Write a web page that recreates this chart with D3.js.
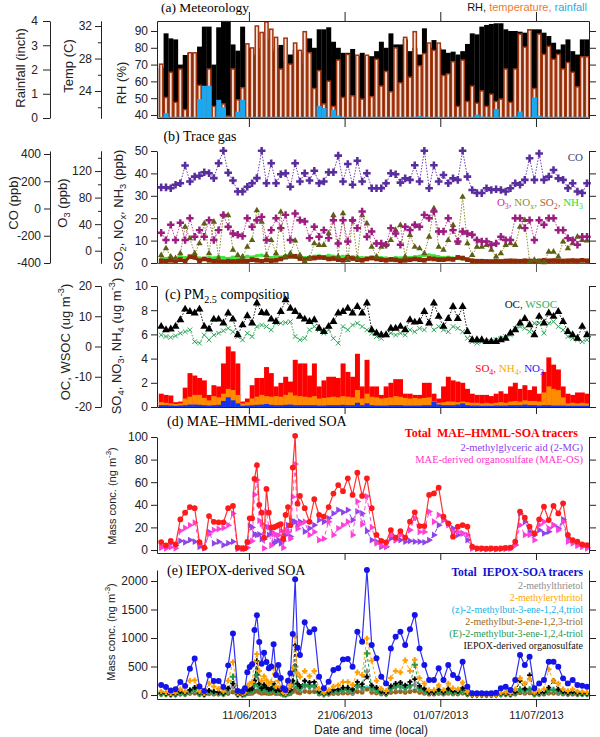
<!DOCTYPE html>
<html><head><meta charset="utf-8">
<script src="https://cdn.jsdelivr.net/npm/d3@7"></script>
<style>body{margin:0;background:#fff}</style>
</head><body>
<svg id="c" width="600" height="737"></svg>
<script>
// ---------------- DATA ----------------
const xDomain = ["2013-06-01 09:30", "2013-07-16 13:00"];
const xTickDates = ["2013-06-11 00:00","2013-06-21 00:00","2013-07-01 00:00","2013-07-11 00:00"];
const halfDaily = [{start:"2013-06-01 20:00", stepHours:12, count:90}];
const soaSchedule = [{start:"2013-06-01 20:00",stepHours:12,count:18},{start:"2013-06-10 14:00",stepHours:6,count:24},{start:"2013-06-16 20:00",stepHours:12,count:60}];

// (a) meteorology
const rhTicks = [40,50,60,70,80,90];
const tempTicks = [24,28,32], tempMinor = [22,26,30];
const rainTicks = [0,1,2,3,4];
const rh = [68,88.6,85.6,85,70,75.7,77,77,80.7,92.6, 92.6,70,92.2,96,96,82,78.3,92.6,80,76, 75,80,85,78,80,81.7,72,76,78.7,77, 70,85.6,80,91,91,92.2,83.6,80,77,77, 79.3,75,77,75,75,78,83.6,80,88.6,82, 82,85,78,80,76,91.6,80,84.6,80,79, 77,77.7,76,78,82.3,88.6,88,92.6,93.6,94.2, 94.6,94.6,91,90,90,89.6,89,91,91,91, 89,87,83,79,82,85,78,76,85,85];
const temp = [27.4,23.3,26.4,22.7,26.8,21.8,28.8,28.8,24.8,24.6, 26.8,22.2,21.5,22.5,21.0,26.8,23.0,24.5,29.9,29.4, 32.1,31.3,32.6,31.7,30.7,26.8,30.6,27.4,30.0,29.1, 31.4,28.8,24.4,26.6,22.5,25.3,22.2,27.9,23.3,28.6, 23.5,28.5,23.1,28.5,23.4,28.0,24.7,26.5,24.0,29.4, 25.1,30.7,25.8,31.4,27.2,28.7,30.0,29.1,30.0,26.0, 26.2,27.7,22.2,27.9,22.8,24.7,22.6,24.1,22.2,23.7, 22.8,23.1,26.8,22.7,26.8,31.1,29.5,31.6,24.4,31.1, 28.6,29.6,28.0,28.6,26.8,27.6,26.4,24.6,28.3,28.3];
const rain = [0.05,0.2,0.05,0.05,0.05,0.05,0.05,0.05,0.78,1.33, 1.33,0.05,0.75,0.44,0.05,0.05,0.26,0.75,0.05,0.05, 0.05,0.05,0.05,0.05,0.05,0.05,0.05,0.05,0.05,0.05, 0.05,0.05,0.05,0.5,0.41,0.05,0.34,0.1,0.05,0.05, 0.05,0.05,0.05,0.05,0.05,0.05,0.05,0.05,0.05,0.05, 0.05,0.05,0.05,0.05,0.08,0.05,0.05,0.05,0.05,0.05, 0.05,0.05,0.05,0.05,0.05,0.05,0.14,0.07,0.05,0.05, 0.37,0.05,0.05,0.05,0.07,0.27,0.05,0.05,0.85,0.1, 0.05,0.05,0.05,0.05,0.05,0.05,0.05,0.05,0.05,0.05];

// (b) trace gas
const so2Ticks = [0,10,20,30,40,50];
const o3Ticks = [0,40,80,120], o3Minor = [20,60,100,140];
const coTicks = [-400,-200,0,200,400];
const co = [155,155,149,174,185,315,198,234,241,266, 259,223,332,424,262,205,124,124,160,185, 223,424,185,332,185,251,259,160,332,198, 259,205,277,185,198,266,266,388,198,327, 174,351,198,259,149,149,149,185,259,251, 190,221,210,318,198,424,149,318,198,246, 185,221,210,424,234,136,113,113,149,136, 141,136,124,149,185,174,210,368,210,404, 210,234,282,221,210,149,185,124,113,185];
const o3 = [27,16,39,16,42,16,49,21,31,21, 46,16,31,54,36,26,24,22,49,36, 46,51,16,31,49,34,54,16,56,46, 44,19,36,21,31,19,46,11,46,14, 46,34,59,21,29,11,11,9,34,26, 9,36,31,39,36,54,49,59,29,29, 49,31,14,29,26,24,16,14,14,9, 11,21,16,16,49,49,34,46,16,46, 39,49,49,31,31,19,16,9,21,21];
const nox = [3.5,6.5,2.8,2.1,4.3,16.1,11.0,4.3,8.7,17.6, 4.3,18.4,2.1,21.3,21.3,5.8,3.5,2.8,7.2,10.2, 23.5,18.4,3.5,10.2,4.3,22.8,2.8,4.3,10,3.5, 0.6,2.1,8.7,8.0,8.0,13.2,21.3,2.8,22.1,1.3, 19.1,2.1,21.3,17.6,7.2,2.8,7.2,8.0,10.2,14.7, 16.9,2.8,12.4,7.2,6.5,4.3,11.7,24.3,7.2,5.8, 10.2,16.9,9,29.5,8.7,3.5,7.2,7.2,8.0,5.8, 2.8,4.3,8.0,8.7,8.0,16.1,19.1,0.6,1.3,0.6, 0.3,5.0,5.0,2.8,9.5,6.5,8.7,11.7,10.2,10];
const so2 = [1.0,0.8,1.2,0.9,1.5,0.8,2.8,2.5,1.0,1.8, 1.2,0.8,1.0,0.6,0.8,0.7,0.8,1.0,0.9,1.5, 1.2,0.8,1.3,1.0,1.2,1.8,2.6,3.0,3.0,2.0, 1.5,2.0,2.2,2.5,2.4,1.8,2.0,1.5,1.2,2.6, 2.0,1.5,1.2,1.8,2.2,1.8,1.5,1.2,1.6,1.4, 1.0,1.2,1.5,1.8,1.5,1.2,2.0,1.8,1.5,1.5, 1.8,1.6,2.5,2.2,1.5,1.0,0.8,0.8,0.7,0.6, 0.8,0.7,0.9,1.0,0.9,0.8,1.0,0.9,0.8,0.9, 1.2,1.0,1.1,1.0,0.9,1.0,1.1,1.0,1.2,1.0];
const nh3 = [2.2,2.0,2.5,1.8,2.8,2.4,2.6,3.0,2.2,2.0, 2.5,2.2,2.8,2.4,2.0,2.6,2.2,2.5,3.0,2.6, 3.2,3.5,2.8,2.4,3.0,2.6,3.2,2.8,2.5,2.8, 2.4,2.6,3.0,3.2,2.8,3.4,3.0,2.6,3.0,2.4, 2.8,2.6,2.4,2.2,2.6,2.8,2.4,2.2,2.0,2.4, 2.2,2.6,2.4,2.8,3.0,3.4,3.6,3.2,2.8,2.4, 2.6,2.2,2.0,1.8,1.6,1.2,1.0,1.0,0.8,1.0, 1.2,0.8,1.0,0.9,0.8,1.0,1.2,1.0,0.8,0.9, 1.0,0.8,0.9,1.0,0.8,0.9,1.0,0.8,0.9,1.0];

// (c) PM2.5 composition
const ionTicks = [0,2,4,6,8,10];
const ocTicks = [-20,-10,0,10,20];
const oc = [6.6,5.5,5.7,6.6,8.8,12.3,11.5,11.0,12.3,6.6, 5.7,9.0,9.0,7.7,11.0,9.0,3.8,7.1,10.1,7.7, 14.3,11.2,11.0,9.0,8.2,11.5,15.4,12.6,11.5,9.9, 9.0,8.2,8.8,6.0,4.9,6.6,8.2,11.0,11.5,12.6, 11.0,13.2,11.0,14.3,5.5,4.4,3.8,3.8,6.0,6.0, 6.6,5.5,8.8,8.0,8.2,11.5,7.7,14.3,9.9,6.6, 9.2,13.2,9.2,13.2,4.9,2.2,2.2,2.2,1.6,1.6, 1.6,2.2,2.7,4.4,5.5,7.7,9.2,7.1,3.8,9.9, 7.7,11.0,9.9,11.5,8.2,4.9,3.8,2.7,6.6,3.8];
const wsoc = [3.8,3.3,3.0,3.5,4.4,4.9,5.5,1.6,1.1,3.8, 2.2,3.8,4.4,5.2,6.0,4.9,3.3,2.2,4.4,3.3, 6.6,7.1,6.6,5.5,7.7,7.7,7.9,8.2,3.3,2.2, 2.7,5.5,6.6,5.5,4.4,5.5,2.7,1.1,6.6,5.5, 7.1,7.7,6.6,5.5,4.4,3.3,2.7,3.8,4.4,3.8, 4.4,3.8,5.5,4.9,6.0,5.5,7.7,5.5,6.6,5.5, 4.9,6.6,6.0,4.9,2.7,1.6,1.1,1.6,1.6,1.6, 2.2,2.7,3.3,3.8,6.0,6.6,6.0,4.9,7.7,7.7, 4.4,7.7,8.2,6.6,5.5,3.3,2.7,2.2,1.6,2.2];
const so4 = [1.1,1.0,0.95,0.4,0.45,1.6,2.8,2.6,2.4,2.2, 1.0,1.8,1.7,3.6,5.0,4.6,3.6,0.45,0.7,1.8, 2.4,2.4,3.3,2.8,1.7,2.0,2.5,2.1,3.9,3.6, 3.6,2.6,3.6,1.7,2.2,2.5,2.5,2.4,3.6,2.9, 2.5,4.4,1.7,3.9,1.7,1.7,1.0,1.7,2.0,2.3, 2.3,1.1,1.1,1.0,1.0,2.0,2.0,1.1,0.7,1.7, 2.5,2.2,2.1,2.0,1.5,1.1,1.0,1.0,1.0,0.9, 1.1,1.3,1.1,1.7,2.0,1.5,1.8,1.4,1.7,1.1, 2.9,4.1,3.5,3.1,1.7,1.1,1.0,1.2,1.2,1.1];
const nh4 = [0.4,0.35,0.3,0.25,0.3,0.7,0.85,1.0,1.0,0.75, 0.55,0.9,0.8,1.1,1.5,1.4,1.0,0.3,0.4,0.7, 0.85,1.0,0.9,0.85,0.9,0.85,1.0,1.2,0.95,0.9, 0.85,0.8,0.9,0.7,0.75,0.8,0.85,0.8,0.9,0.85, 0.8,1.4,0.7,1.1,0.85,0.8,0.7,0.75,0.8,0.9, 0.85,0.75,0.7,0.75,0.7,0.75,0.8,0.5,0.35,0.4, 0.45,0.45,0.4,0.45,0.4,0.35,0.35,0.3,0.35,0.3, 0.35,0.4,0.35,0.45,0.5,0.45,0.55,0.5,0.5,0.45, 1.2,1.7,1.5,1.4,0.8,0.3,0.35,0.3,0.35,0.3];
const no3 = [0.15,0.15,0.12,0.1,0.12,0.15,0.2,0.2,0.18,0.15, 0.12,0.15,0.18,0.5,0.8,0.55,0.3,0.1,0.12,0.15, 0.18,0.2,0.25,0.18,0.15,0.15,0.18,0.2,0.15,0.15, 0.15,0.15,0.15,0.12,0.12,0.15,0.15,0.15,0.18,0.15, 0.15,0.35,0.15,0.3,0.15,0.12,0.12,0.12,0.15,0.15, 0.15,0.12,0.12,0.12,0.12,0.15,0.15,0.45,0.2,0.15, 0.15,0.15,0.2,0.3,0.15,0.12,0.12,0.1,0.1,0.1, 0.12,0.12,0.12,0.15,0.15,0.15,0.2,0.15,0.15,0.12, 0.15,0.15,0.12,0.12,0.12,0.1,0.1,0.1,0.1,0.1];

// (d) MAE-HMML SOA (ng m-3)
const maeTicks = [0,20,40,60,80,100];
const maeTotal = [7,4,8,5,27,33,38,37,7,2,30,25,24.5,24.5,37,39,2,1.5, 1.5,7,28,28,63,75,40,33,11,54,33,20,20,21,22,23,10,31,38,22,73,101,41,48, 37,25,45,31,29.5,38,50,57.5,52,63.4,48.7,68.4,47.8,63.4,37,13.3,8,6.8,17.7,10.9,16.8,10.9,25.1,33.3,21.2,21.2,48.7,50.1,55.2,29.5,23.6,11.8,20.6,22.1,20.6,2.9,1.5,1.5,1.2,1.5,1.2,1.5,1.8,2.0,7.4,34,28.6,20.6,14.7,27.1,38.3,26.5,39,32.4,41.3,13.3,8.8,7.4,5,4.4];
const mg2 = [3,2,6,4,8,6.8,8.8,7.4,2.9,1.5,16,5.9,7.4,4.4,6,7.4,1.2,1.5, 1.5,7,21.5,20,13.9,13.3,13.9,9.7,9.7,20.6,13.3,16,5.9,7.4,8.8,5.9,8,13.3,22,12,25.7,25,22,25, 16.2,19.2,22.1,26.5,25,28,32.4,35.4,33.3,35.4,26.5,34,32.4,16.8,8.8,7.4,2.9,2.9,10.3,8.8,8.8,7.4,8,7.4,7.4,6.8,8.8,13.3,22,26.5,23.6,19.2,13.3,14.7,8.8,1.5,1.0,1.0,0.8,1.0,0.8,1.0,1.2,1.5,4.4,32.4,25,16.2,13.3,17.7,14.7,16.2,22.1,19.2,27,10.3,8,4.4,3.8,2.2];
const maeOS = [2,1.5,2.5,1.5,17,19.5,22,24.2,5.9,2.1,14,17.7,18.6,19.5,22,32.4,1.2,1.0, 1.0,2,7,8,49,62,26,23,1.5,34,20,4,14,13.6,13,17,2,18,16,10,47,76,19,23, 25,13.3,16,8.8,10,25,13.3,19.2,22,25,13.3,43,22.6,47.5,20,5.9,3.8,2.9,13.3,8.8,13.3,10.3,17.7,28,16,16,34,25,31,26.5,22,16,16,14.7,13.3,1.5,1.0,1.0,0.8,1.0,0.8,1.0,1.2,1.5,4.4,22.1,13.3,13.3,8.8,22.1,25,19.2,22.1,17.7,25,7.4,5.9,3.8,2.9,1.5];

// (e) IEPOX SOA (ng m-3)
const iepoxTicks = [0,500,1000,1500,2000];
const iepoxTotal = [175,140,80,100,230,160,460,640,150,70,350,245,245,140,520,1080,70,60, 120,400,490,540,1140,1400,930,550,740,580,470,500,890,350,526,300,117,88,250,380,1070,2030,830,700, 1275,1100,1152,321,117,234,438,468,625,631,497,1111,936,2193,877,643,321,204,818,1023,1111,877,1152,1403,818,526,263,263,468,263,526,350,292,585,146,29,30,30,28,30,40,117,146,88,263,702,526,670,117,204,263,585,585,497,292,204,263,175,163,146];
const methylerythritol = [60,50,30,40,100,60,250,260,60,30,200,150,110,60,250,580,30,25, 40,150,200,230,580,720,420,250,330,260,200,230,480,150,250,130,40,30,100,170,480,1020,380,320, 420,330,420,110,40,90,150,170,230,230,180,400,350,990,600,250,110,70,300,420,400,610,420,620,300,200,90,90,170,90,200,120,100,220,50,10,10,10,10,10,14,40,50,30,100,300,200,280,40,70,100,450,240,200,100,70,100,60,55,50];
const iepoxOS = [40,30,15,20,60,40,90,130,40,15,80,60,50,30,120,200,15,12, 25,80,100,110,250,600,200,120,180,130,100,110,200,80,120,70,25,20,60,90,250,870,200,150, 250,220,230,60,25,45,90,100,130,130,100,230,190,320,170,130,60,40,160,200,220,170,230,280,160,110,50,50,95,50,110,70,60,120,30,6,6,6,6,6,8,25,30,18,55,250,110,350,25,40,55,130,250,100,60,40,55,35,32,30];
const eTriol = [25,20,10,15,40,25,70,110,20,10,60,45,40,20,100,320,10,8, 15,60,70,80,180,350,150,90,120,100,80,90,150,60,90,50,15,12,40,60,200,500,150,120, 180,160,170,45,15,35,65,70,95,95,75,170,140,730,130,95,45,30,120,150,170,130,170,530,120,80,40,40,70,40,80,50,45,90,22,4,4,4,4,4,6,18,22,13,40,100,80,100,18,30,40,90,90,75,45,30,40,26,24,22];
const methylthreitol = [20,15,10,10,30,20,60,90,20,10,50,35,30,20,70,150,10,8, 15,50,60,70,200,450,130,80,110,90,70,80,140,50,80,45,15,10,35,55,180,500,120,100, 150,130,140,40,14,28,55,60,80,80,60,140,115,410,110,80,40,25,100,130,140,110,140,180,100,65,33,33,60,33,65,45,37,75,18,4,4,4,4,4,5,15,18,11,33,90,65,85,15,25,33,75,75,62,37,25,33,22,20,18];
const zTriol = [15,12,8,10,18,14,30,40,14,8,25,20,20,14,35,60,8,6, 10,25,30,35,70,90,60,35,45,40,30,35,55,25,35,20,10,8,18,25,70,130,55,45, 80,70,75,25,10,18,30,32,42,42,34,75,62,140,58,43,22,14,55,68,75,58,75,95,55,35,18,18,32,18,35,24,20,40,10,2,2,2,2,2,3,8,10,6,18,47,35,45,8,14,18,40,40,33,20,14,18,12,11,10];
const triol123 = [10,8,5,6,12,10,25,30,10,6,20,15,15,10,25,50,6,5, 8,20,25,28,55,70,45,28,35,30,25,28,45,20,28,16,8,6,14,20,55,100,45,35, 60,50,55,18,8,14,24,26,32,32,26,55,45,100,44,32,18,12,42,50,55,44,55,70,42,28,14,14,25,14,28,18,16,30,8,2,2,2,2,2,2,6,8,5,14,36,27,34,6,11,14,30,30,25,16,11,14,9,8,8];

// ---------------- DRAWING ----------------
const svg = d3.select("#c");
const SERIF = "'Liberation Serif','Times New Roman',serif";
const SANS = "'Liberation Sans',Arial,sans-serif";
const parse = d3.timeParse("%Y-%m-%d %H:%M");
const buildTimes = segs => segs.flatMap(s => d3.range(s.count).map(k => d3.timeHour.offset(parse(s.start), s.stepHours * k)));
const t12 = buildTimes(halfDaily);
const tSOA = buildTimes(soaSchedule);
const ticksX = xTickDates.map(parse);
const X0 = 157, X1 = 589;
const x = d3.scaleTime().domain(xDomain.map(parse)).range([X0, X1]);
const barW = x(d3.timeHour.offset(t12[0], 12)) - x(t12[0]);
const fmt = d => String(d);

function rich(t, parts, fs) {
  let off = 0;
  parts.forEach(p => {
    if (typeof p === "string") p = [p];
    const [txt, kind, col] = p;
    const target = kind === "sub" ? 0.3 * fs : kind === "sup" ? -0.45 * fs : 0;
    const s = t.append("tspan").text(txt);
    if (target - off !== 0) s.attr("dy", target - off);
    if (kind) s.attr("font-size", 0.72 * fs);
    if (col) s.attr("fill", col);
    off = target;
  });
}
function addText(xp, yp, parts, o) {
  const t = svg.append("text").attr("font-family", o.family || SERIF).attr("font-size", o.size)
    .attr("text-anchor", o.anchor || "start").attr("fill", o.fill || "#000").style("white-space", "pre");
  if (o.rotate) t.attr("transform", `translate(${xp},${yp}) rotate(-90)`);
  else t.attr("x", xp).attr("y", yp);
  if (o.weight) t.attr("font-weight", o.weight);
  rich(t, parts, o.size);
  return t;
}
function axis(gen, tx, ty, o = {}) {
  const g = svg.append("g").attr("transform", `translate(${tx},${ty})`).call(gen);
  g.attr("font-family", SANS).attr("font-size", o.fs || 12);
  g.selectAll("path.domain").attr("stroke", o.color || "#222");
  g.selectAll(".tick line").attr("stroke", o.color || "#222");
  g.selectAll(".tick text").attr("fill", "#222");
  return g;
}
const symX = {draw(ctx, size) { const r = Math.sqrt(size) / 2; ctx.moveTo(-r, -r); ctx.lineTo(r, r); ctx.moveTo(r, -r); ctx.lineTo(-r, r); }};
const symPlus = {draw(ctx, size) { const r = Math.sqrt(size) / 2; ctx.moveTo(-r, 0); ctx.lineTo(r, 0); ctx.moveTo(0, -r); ctx.lineTo(0, r); }};
function series(times, vals, ys, o) {
  const pts = vals.map((v, i) => [x(times[i]), ys(v)]);
  svg.append("path").attr("d", d3.line()(pts)).attr("fill", "none").attr("stroke", o.line)
    .attr("stroke-width", o.lw || 1).attr("stroke-dasharray", o.dash || null);
  if (o.sym) {
    const p = d3.symbol().type(o.sym).size(o.size)();
    svg.append("g").selectAll("path").data(pts).join("path").attr("d", p)
      .attr("transform", d => `translate(${d[0]},${d[1]})` + (o.rot ? ` rotate(${o.rot})` : ""))
      .attr("fill", o.fill || "none").attr("stroke", o.stroke || "none").attr("stroke-width", o.sw || 1);
  }
}
function bars(times, vals, ys, base, fill) {
  svg.append("g").selectAll("rect").data(vals).join("rect")
    .attr("x", (d, i) => x(times[i]) - barW / 2).attr("width", barW + 0.2)
    .attr("y", d => ys(d)).attr("height", d => Math.max(0, ys(base) - ys(d))).attr("fill", fill);
}

// ===== Panel (a) =====
const aTop = 21, aBot = 118;
const yRH = d3.scaleLinear().domain([38.2, 95.95]).range([aBot, aTop]);
const yT = d3.scaleLinear().domain([20.68, 32.62]).range([aBot, aTop]);
const yR = d3.scaleLinear().domain([0, 4]).range([aBot, aTop]);
bars(t12, rh, yRH, 38.2, "#000");
svg.append("g").selectAll("rect").data(temp).join("rect")
  .attr("x", (d, i) => x(t12[i]) - barW / 2 + 0.75).attr("width", barW - 1.5)
  .attr("y", d => yT(d) + 0.75).attr("height", d => yT(20.68) - yT(d) - 0.75)
  .attr("fill", "#F7E1D7").attr("stroke", "#A3360E").attr("stroke-width", 1.5);
bars(t12, rain, yR, 0, "#1CA8EE");
axis(d3.axisLeft(yRH).tickValues(rhTicks).tickSize(6).tickPadding(3).tickSizeOuter(0).tickFormat(fmt), X0, 0);
axis(d3.axisRight(yRH).tickValues(rhTicks).tickSize(7).tickSizeOuter(0).tickFormat(""), X1, 0);
axis(d3.axisTop(x).tickValues(ticksX).tickSize(9).tickSizeOuter(0).tickFormat(""), 0, aTop);
axis(d3.axisBottom(x).tickValues(ticksX).tickSize(9).tickSizeOuter(0).tickFormat(""), 0, aBot);
axis(d3.axisLeft(yT).tickValues(tempTicks).tickSize(6).tickPadding(3).tickSizeOuter(0).tickFormat(fmt), 101, 0);
axis(d3.axisLeft(yT).tickValues(tempMinor).tickSize(3).tickSizeOuter(0).tickFormat(""), 101, 0);
axis(d3.axisLeft(yR).tickValues(rainTicks).tickSize(7).tickPadding(5).tickSizeOuter(0).tickFormat(fmt), 50, 0);
addText(24.5, 68, ["Rainfall (inch)"], {family: SANS, size: 13, anchor: "middle", rotate: true, fill: "#222"});
addText(72.5, 66, ["Temp (C)"], {family: SANS, size: 13, anchor: "middle", rotate: true, fill: "#222"});
addText(125.5, 83, ["RH (%)"], {family: SANS, size: 13, anchor: "middle", rotate: true, fill: "#222"});
addText(205, 12, ["(a) Meteorology"], {size: 13.5, anchor: "middle"});
addText(587, 11, [["RH, ", 0, "#111"], ["temperature, ", 0, "#EC7A30"], ["rainfall", 0, "#2AAAE2"]], {family: SANS, size: 11, anchor: "end"});

// ===== Panel (b) =====
const bTop = 151, bBot = 263;
const yS = d3.scaleLinear().domain([0, 50]).range([bBot, bTop]);
const yO3 = d3.scaleLinear().domain([-18.5, 150.2]).range([bBot, bTop]);
const yCO = d3.scaleLinear().domain([-400, 422]).range([bBot, bTop]);
series(t12, nh3, yS, {line: "#3BE83B", lw: 2.5, sym: d3.symbolSquare, size: 10, fill: "#3BE83B"});
series(t12, so2, yS, {line: "#8E2A05", lw: 3, sym: d3.symbolSquare, size: 22, fill: "#8E2A05"});
series(t12, nox, yS, {line: "#8C8C30", dash: "1.5,1.5", sym: d3.symbolTriangle, size: 18, fill: "#5E5E16"});
series(t12, o3, yO3, {line: "#C2409E", dash: "1.5,1.5", sym: d3.symbolCross, size: 30, fill: "#9C1C80"});
series(t12, co, yCO, {line: "#6A3AB0", dash: "1.5,1.5", sym: d3.symbolCross, size: 32, fill: "#5A2D9E"});
axis(d3.axisLeft(yS).tickValues(so2Ticks).tickSize(6).tickPadding(3).tickSizeOuter(0).tickFormat(fmt), X0, 0);
axis(d3.axisRight(yS).tickValues(so2Ticks).tickSize(7).tickSizeOuter(0).tickFormat(""), X1, 0);
axis(d3.axisBottom(x).tickValues(ticksX).tickSize(9).tickSizeOuter(0).tickFormat(""), 0, bBot, {color: "#555"});
axis(d3.axisLeft(yO3).tickValues(o3Ticks).tickSize(6).tickPadding(3).tickSizeOuter(0).tickFormat(fmt), 101, 0);
axis(d3.axisLeft(yO3).tickValues(o3Minor).tickSize(3).tickSizeOuter(0).tickFormat(""), 101, 0);
axis(d3.axisLeft(yCO).tickValues(coTicks).tickSize(6).tickPadding(3).tickSizeOuter(0).tickFormat(fmt), 50, 0);
addText(17.5, 203, ["CO (ppb)"], {family: SANS, size: 13, anchor: "middle", rotate: true, fill: "#222"});
addText(66.5, 203, ["O", ["3", "sub"], " (ppb)"], {family: SANS, size: 13, anchor: "middle", rotate: true, fill: "#222"});
addText(122.5, 210, ["SO", ["2", "sub"], ", NO", ["x", "sub"], ", NH", ["3", "sub"], " (ppb)"], {family: SANS, size: 13, anchor: "middle", rotate: true, fill: "#222"});
addText(200, 141, ["(b) Trace gas"], {size: 14, anchor: "middle"});
addText(583, 161, [["CO", 0, "#4A3A6A"]], {size: 11, anchor: "end"});
addText(583, 206, [["O", 0, "#D02C9E"], ["3", "sub", "#D02C9E"], [", ", 0, "#D02C9E"], ["NO", 0, "#8E8E3C"], ["x", "sub", "#8E8E3C"], [", ", 0, "#8E8E3C"], ["SO", 0, "#B0603A"], ["2", "sub", "#B0603A"], [", ", 0, "#B0603A"], ["NH", 0, "#2EDD2E"], ["3", "sub", "#2EDD2E"]], {size: 11, anchor: "end"});

// ===== Panel (c) =====
const cTop = 286, cBot = 407;
const yC = d3.scaleLinear().domain([0, 10]).range([cBot, cTop]);
const yOC = d3.scaleLinear().domain([-20, 20]).range([cBot, cTop]);
bars(t12, so4, yC, 0, "#FF0000");
bars(t12, nh4, yC, 0, "#FF8C00");
bars(t12, no3, yC, 0, "#1034F0");
series(t12, wsoc, yOC, {line: "#2EA85A", dash: "1.5,1.5", sym: symX, size: 22, stroke: "#2EA85A", sw: 1});
series(t12, oc, yOC, {line: "#111", dash: "1.5,1.5", sym: d3.symbolTriangle, size: 28, fill: "#000"});
axis(d3.axisLeft(yC).tickValues(ionTicks).tickSize(6).tickPadding(3).tickSizeOuter(0).tickFormat(fmt), X0, 0);
axis(d3.axisRight(yC).tickValues(ionTicks).tickSize(7).tickSizeOuter(0).tickFormat(""), X1, 0);
axis(d3.axisBottom(x).tickValues(ticksX).tickSize(7).tickSizeOuter(0).tickFormat(""), 0, cBot);
axis(d3.axisLeft(yOC).tickValues(ocTicks).tickSize(6).tickPadding(3).tickSizeOuter(0).tickFormat(fmt), 101, 0);
addText(69.5, 342, ["OC, WSOC (ug m", ["-3", "sup"], ")"], {family: SANS, size: 13, anchor: "middle", rotate: true, fill: "#222"});
addText(120.5, 346, ["SO", ["4", "sub"], ", NO", ["3", "sub"], ", NH", ["4", "sub"], " (ug m", ["-3", "sup"], ")"], {family: SANS, size: 13, anchor: "middle", rotate: true, fill: "#222"});
addText(165, 299, ["(c) PM", ["2.5", "sub"], " composition"], {size: 14});
addText(557, 308, [["OC, ", 0, "#111"], ["WSOC", 0, "#2EAF60"]], {size: 11, anchor: "end"});
addText(544, 372, [["SO", 0, "#FF0000"], ["4", "sub", "#FF0000"], [", ", 0, "#FF0000"], ["NH", 0, "#FFA500"], ["4", "sub", "#FFA500"], [", ", 0, "#FFA500"], ["NO", 0, "#1A1AFF"], ["3", "sub", "#1A1AFF"]], {size: 11, anchor: "end"});

// ===== Panel (d) =====
const dTop = 437, dBot = 553;
const yD = d3.scaleLinear().domain([-2.65, 100]).range([dBot, dTop]);
series(tSOA, mg2, yD, {line: "#9048E8", dash: "4,3", sym: d3.symbolTriangle, size: 20, rot: 90, fill: "#8E44E8"});
series(tSOA, maeOS, yD, {line: "#FF48DA", dash: "4,3", sym: d3.symbolTriangle, size: 20, rot: 90, fill: "#FF3FD8"});
series(tSOA, maeTotal, yD, {line: "#FF3030", lw: 1.2, sym: d3.symbolCircle, size: 26, fill: "#FF1A1A"});
axis(d3.axisLeft(yD).tickValues(maeTicks).tickSize(6).tickPadding(3).tickSizeOuter(0).tickFormat(fmt), X0, 0);
axis(d3.axisRight(yD).tickValues(maeTicks).tickSize(7).tickSizeOuter(0).tickFormat(""), X1, 0);
axis(d3.axisBottom(x).tickValues(ticksX).tickSize(7).tickSizeOuter(0).tickFormat(""), 0, dBot);
addText(116, 496, ["Mass conc. (ng m", ["-3", "sup"], ")"], {family: SANS, size: 11, anchor: "middle", rotate: true, fill: "#222"});
addText(167, 426, ["(d) MAE\u2013HMML-derived SOA"], {size: 14});
addText(578, 437, ["Total  MAE\u2013HMML-SOA tracers"], {size: 12, weight: "bold", anchor: "end", fill: "#FF0000"});
addText(583, 451, ["2-methylglyceric aid (2-MG)"], {size: 10.5, anchor: "end", fill: "#8A3CE6"});
addText(583, 462.5, ["MAE-derived organosulfate (MAE-OS)"], {size: 10.5, anchor: "end", fill: "#FF33CC"});

// ===== Panel (e) =====
const eTop = 570, eBot = 699;
const yE = d3.scaleLinear().domain([-70, 2193]).range([eBot, eTop]);
series(tSOA, zTriol, yE, {line: "#7FE6F2", lw: 2, sym: d3.symbolCircle, size: 12, fill: "#5FD8F0"});
series(tSOA, triol123, yE, {line: "#A0701E", dash: "3,2", sym: d3.symbolCircle, size: 18, fill: "#9A6418"});
series(tSOA, methylthreitol, yE, {line: "#999", dash: "3,2", sym: d3.symbolDiamond, size: 18, fill: "#8C8C8C"});
series(tSOA, eTriol, yE, {line: "#22A050", dash: "3,2", sym: d3.symbolCross, size: 22, fill: "#1E9A4A"});
series(tSOA, iepoxOS, yE, {line: "#222", dash: "3,2", sym: symPlus, size: 25, stroke: "#000", sw: 1.8});
series(tSOA, methylerythritol, yE, {line: "#FFA500", dash: "3,2", sym: symPlus, size: 30, stroke: "#FFA000", sw: 2});
series(tSOA, iepoxTotal, yE, {line: "#3030F0", lw: 1.2, sym: d3.symbolCircle, size: 28, fill: "#1414E8"});
axis(d3.axisLeft(yE).tickValues(iepoxTicks).tickSize(6).tickPadding(3).tickSizeOuter(0).tickFormat(fmt), X0, 0);
axis(d3.axisRight(yE).tickValues(iepoxTicks).tickSize(7).tickSizeOuter(0).tickFormat(""), X1, 0);
axis(d3.axisBottom(x).tickValues(ticksX).tickSize(8).tickPadding(4).tickSizeOuter(0).tickFormat(d3.timeFormat("%d/%m/%Y")), 0, eBot, {fs: 11});
addText(115, 632, ["Mass conc. (ng m", ["-3", "sup"], ")"], {family: SANS, size: 11, anchor: "middle", rotate: true, fill: "#222"});
addText(167, 575, ["(e) IEPOX-derived SOA"], {size: 14});
addText(583, 576, ["Total  IEPOX-SOA tracers"], {size: 11.5, weight: "bold", anchor: "end", fill: "#1010D0"});
const eLeg = [["2-methylthrietol", "#8C8C8C"], ["2-methylerythritol", "#FFA500"], ["(z)-2-methylbut-3-ene-1,2,4,triol", "#1AAFE6"], ["2-methylbut-3-ene-1,2,3-triol", "#9A6A20"], ["(E)-2-methylbut-3-ene-1,2,4-triol", "#1E9A4E"], ["IEPOX-derived organosulfate", "#111"]];
eLeg.forEach((l, k) => addText(583, 589 + k * 12, [l[0]], {size: 10, anchor: "end", fill: l[1]}));
addText(371, 734, ["Date and  time (local)"], {family: SANS, size: 12, anchor: "middle", fill: "#222"});
</script>
</body></html>
